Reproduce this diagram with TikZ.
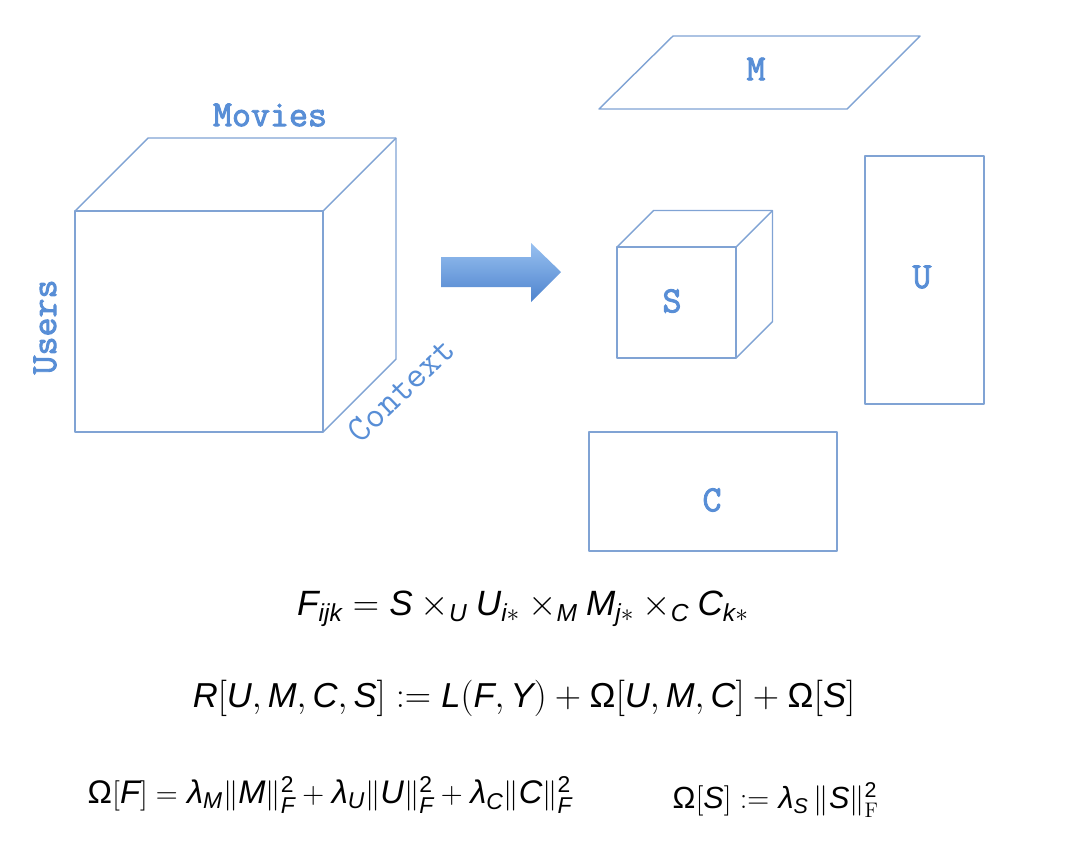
\documentclass[tikz,border=0pt]{standalone}
\usepackage{amsmath,amssymb}
\usepackage{mathspec}
\setmathsfont(Digits,Latin,Greek){Liberation Sans}
\newfontfamily\labelfont{Latin Modern Mono}[FakeBold=2.5]
\usepackage{tikz}
\usetikzlibrary{calc}
\definecolor{linecol}{RGB}{128,163,212}
\definecolor{labcol}{RGB}{88,142,214}
\definecolor{arrtop}{RGB}{152,192,240}
\definecolor{arrbot}{RGB}{78,132,206}
\newcommand{\cubeopen}[5]{ \draw[edge] ( #1 , #2 ) rectangle ( #3 , #4 ); \draw[edge] ( #1 , #2 ) -- ( #1 + #5 , #2 - #5 ) -- ( #3 + #5 , #2 - #5 ) -- ( #3 + #5 , #4 - #5 ) -- ( #3 , #4 ); \draw[edge] ( #3 , #2 ) -- ( #3 + #5 , #2 - #5 );}

\begin{document}
\begin{tikzpicture}[x=0.02cm, y=-0.02cm,
    edge/.style={draw=linecol, line width=0.8pt, line join=round},
    labelnode/.style={text=labcol, inner sep=0pt, font=\labelfont\fontsize{21}{25}\selectfont},
    formula/.style={inner sep=0pt, font=\fontsize{20}{24}\selectfont}]
    \useasboundingbox (0,0) rectangle (1078,843);
    % tensor
    \cubeopen{75}{211}{323}{432}{73}
    \node[labelnode] (movies) at (270,115) {Movies};
    \node[labelnode, rotate=90] (users) at (45,327) {Users};
    \node[labelnode, font=\ttfamily\fontsize{21}{25}\selectfont, rotate=44] (context) at (401,390) {Context};
    % arrow
    \shade[top color=arrtop, bottom color=arrbot] (441,257) -- (531,257) -- (531,243) -- (561,272) -- (531,302) -- (531,287) -- (441,287) -- cycle;
    % factors
    \draw[edge] (599,109) -- (673,36) -- (920,36) -- (847,109) -- cycle;
    \node[labelnode] (m) at (756,69) {M};
    \cubeopen{617}{247}{736}{358}{36.5}
    \node[labelnode] (s) at (672,301) {S};
    \draw[edge] (865,156) rectangle (984,404);
    \node[labelnode] (u) at (922,277) {U};
    \draw[edge] (589,432) rectangle (837,551);
    \node[labelnode] (c) at (712,500) {C};
    % formulas
    \node[formula] (fijk) at (523,609) {$F_{ijk} = S \times_U U_{i*} \times_M M_{j*} \times_C C_{k*}$};
    \node[formula, font=\fontsize{19.7}{24}\selectfont] (rloss) at (524,698) {$R[U, M, C, S] := L(F, Y) + \Omega[U, M, C] + \Omega[S]$};
    \node[formula, anchor=west, font=\fontsize{18.6}{22}\selectfont] (omegaf) at (87,795) {$\Omega[F] = \lambda_M \|M\|_F^2 + \lambda_U \|U\|_F^2 + \lambda_C \|C\|_F^2$};
    \node[formula, anchor=west, font=\fontsize{17.4}{21}\selectfont] (omegas) at (672,800) {$\Omega[S] := \lambda_S \, \|S\|_{\mathrm{F}}^2$};
\end{tikzpicture}
\end{document}
